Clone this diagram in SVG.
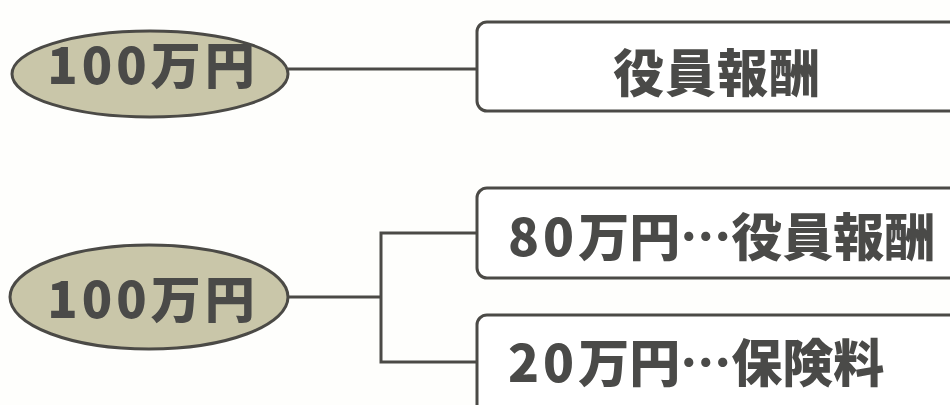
<svg xmlns="http://www.w3.org/2000/svg" width="950" height="405" viewBox="0 0 950 405">
<style>
.oval{fill:#c9c6a9;stroke:#4b4a46;stroke-width:3}
.box{fill:#ffffff;stroke:#4b4a46;stroke-width:3}
.t{font-family:"Noto Sans CJK JP","Noto Sans CJK SC",sans-serif;font-weight:900;fill:#4a4a48}
.c{fill:none;stroke:#4b4a46;stroke-width:3}
</style>
<rect width="950" height="405" fill="#fefefc"/>
<g id="connectors">
<line class="c" x1="288" y1="69" x2="477" y2="69"/>
<polyline class="c" points="288,297 381,297"/>
<polyline class="c" points="476,233 381,233 381,362 476,362"/>
</g>
<g id="oval1">
<ellipse class="oval" cx="150" cy="74" rx="138" ry="43"/>
<text class="t" x="153" y="84" font-size="50" text-anchor="middle" letter-spacing="4">100万円</text>
</g>
<g id="box1">
<rect class="box" x="477" y="22" width="500" height="89" rx="10"/>
<text class="t" x="717" y="92" font-size="51" text-anchor="middle" letter-spacing="1">役員報酬</text>
</g>
<g id="oval2">
<ellipse class="oval" cx="149" cy="297" rx="139" ry="52"/>
<text class="t" x="153" y="318" font-size="50" text-anchor="middle" letter-spacing="4">100万円</text>
</g>
<g id="box2">
<rect class="box" x="477" y="188" width="500" height="90" rx="10"/>
<text class="t" x="508" y="256" font-size="51"><tspan letter-spacing="4">80</tspan>万円…役員報酬</text>
</g>
<g id="box3">
<rect class="box" x="477" y="315" width="500" height="120" rx="10"/>
<text class="t" x="508" y="382" font-size="51"><tspan letter-spacing="4">20</tspan>万円…保険料</text>
</g>
</svg>
